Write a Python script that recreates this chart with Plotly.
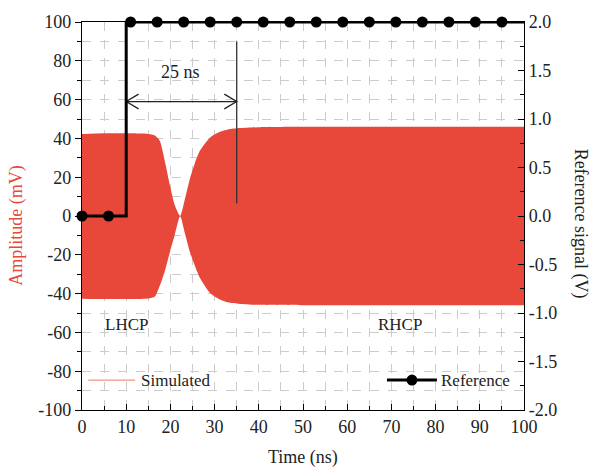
import plotly.graph_objects as go

# Simulated output: envelope of the RF amplitude (mV) versus time (ns)
env_t = [0, 5, 10, 15, 16.5, 17.6, 18.8, 19.9, 21.0, 22.2, 23.3, 24.4, 25.6,
         26.7, 29.0, 31.2, 33.0, 35.7, 40.3, 50, 60, 70, 80, 90, 100]
env_upper = [42.3, 42.6, 42.6, 42.3, 41.5, 38.8, 27.7, 15.7, 5.5, 0.0, 8.9, 19.1, 27.7,
             33.7, 40.5, 43.4, 44.6, 45.3, 45.8, 46.0, 46.0, 46.0, 46.0, 46.0, 46.0]
env_lower = [-42.6, -42.8, -42.8, -42.5, -41.5, -36.0, -28.0, -18.5, -9.7, 0.0, -9.0, -18.5, -26.0,
             -32.0, -39.8, -43.0, -44.5, -45.3, -45.8, -46.0, -46.0, -46.0, -46.0, -46.0, -46.0]

# Reference (switching) signal in volts
ref_t = [0, 10, 10, 100]
ref_v = [0, 0, 2, 2]
ref_mark_t = [0, 6, 11, 17, 23, 29, 35, 41, 47, 53, 59, 65, 71, 77, 83, 89, 95]
ref_mark_v = [0, 0, 2, 2, 2, 2, 2, 2, 2, 2, 2, 2, 2, 2, 2, 2, 2]

# Axis ticks
x_ticks = [0, 10, 20, 30, 40, 50, 60, 70, 80, 90, 100]
y_ticks = [-100, -80, -60, -40, -20, 0, 20, 40, 60, 80, 100]
y2_ticks = [-2.0, -1.5, -1.0, -0.5, 0.0, 0.5, 1.0, 1.5, 2.0]

# Switching-time marker
sw_start, sw_end = 10, 35
sw_arrow_y = 59
sw_line_top, sw_line_bottom = 90, 6.5
sw_label = "25 ns"

FONT = "Liberation Serif"
RED = "#e8483a"
LEG_RED = "#f19485"
GRID = "#cccccc"
INK = "#222222"

fig = go.Figure()

fig.add_trace(go.Scatter(x=env_t, y=env_upper, mode="lines",
                         line=dict(width=0, color=RED, shape="spline", smoothing=0.6),
                         showlegend=False, hoverinfo="skip"))
fig.add_trace(go.Scatter(x=env_t, y=env_lower, mode="lines",
                         line=dict(width=0, color=RED, shape="spline", smoothing=0.6),
                         fill="tonexty", fillcolor=RED, showlegend=False, hoverinfo="skip"))

# switching-time guide: vertical line at the end of the interval and double arrow
fig.add_trace(go.Scatter(x=[sw_end, sw_end], y=[sw_line_top, sw_line_bottom], mode="lines",
                         line=dict(color="#333333", width=1.3), showlegend=False, hoverinfo="skip"))
fig.add_trace(go.Scatter(x=[sw_start, sw_end], y=[sw_arrow_y, sw_arrow_y], mode="lines",
                         line=dict(color=INK, width=1.3), showlegend=False, hoverinfo="skip"))
ah_dx, ah_dy = 2.8, 3.8
fig.add_trace(go.Scatter(
    x=[sw_start + ah_dx, sw_start, sw_start + ah_dx, None, sw_end - ah_dx, sw_end, sw_end - ah_dx],
    y=[sw_arrow_y + ah_dy, sw_arrow_y, sw_arrow_y - ah_dy, None, sw_arrow_y + ah_dy, sw_arrow_y, sw_arrow_y - ah_dy],
    mode="lines", line=dict(color=INK, width=1.3), showlegend=False, hoverinfo="skip"))

# reference signal on the right axis
fig.add_trace(go.Scatter(x=ref_t, y=ref_v, mode="lines", yaxis="y2",
                         line=dict(color="black", width=3), showlegend=False,
                         cliponaxis=False, hoverinfo="skip"))
fig.add_trace(go.Scatter(x=ref_mark_t, y=ref_mark_v, mode="markers", yaxis="y2",
                         marker=dict(color="black", size=11), showlegend=False,
                         cliponaxis=False, hoverinfo="skip"))

tickfont = dict(family=FONT, size=18, color=INK)

fig.update_layout(
    width=590, height=471,
    margin=dict(l=82, r=66, t=19, b=61),
    paper_bgcolor="white", plot_bgcolor="white",
    font=dict(family=FONT, size=17, color=INK),
    showlegend=False,
    xaxis=dict(range=[0, 100], tickmode="array", tickvals=x_ticks,
               ticktext=[str(v) for v in x_ticks],
               showline=True, linecolor="black", linewidth=1.3,
               mirror=True, ticks="inside", ticklen=6, tickcolor="black", tickfont=tickfont,
               showgrid=True, gridcolor=GRID, griddash="dash", gridwidth=1, zeroline=False,
               minor=dict(dtick=5, tick0=0, ticks="inside", ticklen=4, tickcolor="black",
                          showgrid=True, gridcolor=GRID, griddash="dash")),
    yaxis=dict(range=[-100, 100], tickmode="array", tickvals=y_ticks,
               ticktext=[str(v) for v in y_ticks],
               showline=True, linecolor="black", linewidth=1.3,
               mirror=True, ticks="outside", ticklen=6, tickcolor="black", tickfont=tickfont,
               showgrid=True, gridcolor=GRID, griddash="dash", gridwidth=1, zeroline=False,
               minor=dict(dtick=10, tick0=0, ticks="outside", ticklen=4, tickcolor="black",
                          showgrid=True, gridcolor=GRID, griddash="dash")),
    yaxis2=dict(range=[-2, 2], tickmode="array", tickvals=y2_ticks,
                ticktext=[f"{v:.1f}" for v in y2_ticks], overlaying="y", side="right",
                showline=True, linecolor="black", linewidth=1.3, ticks="inside", ticklen=6,
                tickcolor="black", tickfont=tickfont, showgrid=False, zeroline=False,
                minor=dict(dtick=0.25, tick0=0, ticks="inside", ticklen=4, tickcolor="black")),
)

# legend drawn in paper coordinates
leg_y = 0.077
shapes = [
    dict(type="line", xref="paper", yref="paper", x0=0.014, x1=0.120, y0=leg_y, y1=leg_y,
         line=dict(color=LEG_RED, width=1.2)),
    dict(type="line", xref="paper", yref="paper", x0=0.690, x1=0.803, y0=leg_y, y1=leg_y,
         line=dict(color="black", width=3)),
    dict(type="circle", xref="paper", yref="paper", xsizemode="pixel", ysizemode="pixel",
         xanchor=0.7465, yanchor=leg_y, x0=-5.5, x1=5.5, y0=-5.5, y1=5.5,
         fillcolor="black", line=dict(color="black", width=0)),
]

annotations = [
    dict(text=sw_label, x=(sw_start + sw_end) / 2 - 0.2, y=74, xref="x", yref="y",
         showarrow=False, font=dict(family=FONT, size=18, color=INK)),
    dict(text="LHCP", x=10, y=-56, xref="x", yref="y", showarrow=False,
         font=dict(family=FONT, size=17, color=INK)),
    dict(text="RHCP", x=72, y=-56, xref="x", yref="y", showarrow=False,
         font=dict(family=FONT, size=17, color=INK)),
    dict(text="Simulated", x=0.129, y=leg_y, xref="paper", yref="paper", showarrow=False,
         xanchor="left", yanchor="middle", font=dict(family=FONT, size=17, color=INK)),
    dict(text="Reference", x=0.808, y=leg_y, xref="paper", yref="paper", showarrow=False,
         xanchor="left", yanchor="middle", font=dict(family=FONT, size=17, color=INK)),
    dict(text="Time (ns)", x=0.5, y=-0.123, xref="paper", yref="paper", showarrow=False,
         xanchor="center", yanchor="middle", font=dict(family=FONT, size=18, color=INK)),
    dict(text="Amplitude (mV)", x=-0.147, y=0.475, xref="paper", yref="paper", showarrow=False,
         textangle=-90, xanchor="center", yanchor="middle", font=dict(family=FONT, size=18, color=RED)),
    dict(text="Reference signal (V)", x=1.127, y=0.48, xref="paper", yref="paper", showarrow=False,
         textangle=90, xanchor="center", yanchor="middle", font=dict(family=FONT, size=18, color=INK)),
]
fig.update_layout(annotations=annotations, shapes=shapes)

fig.write_html("out.html")
